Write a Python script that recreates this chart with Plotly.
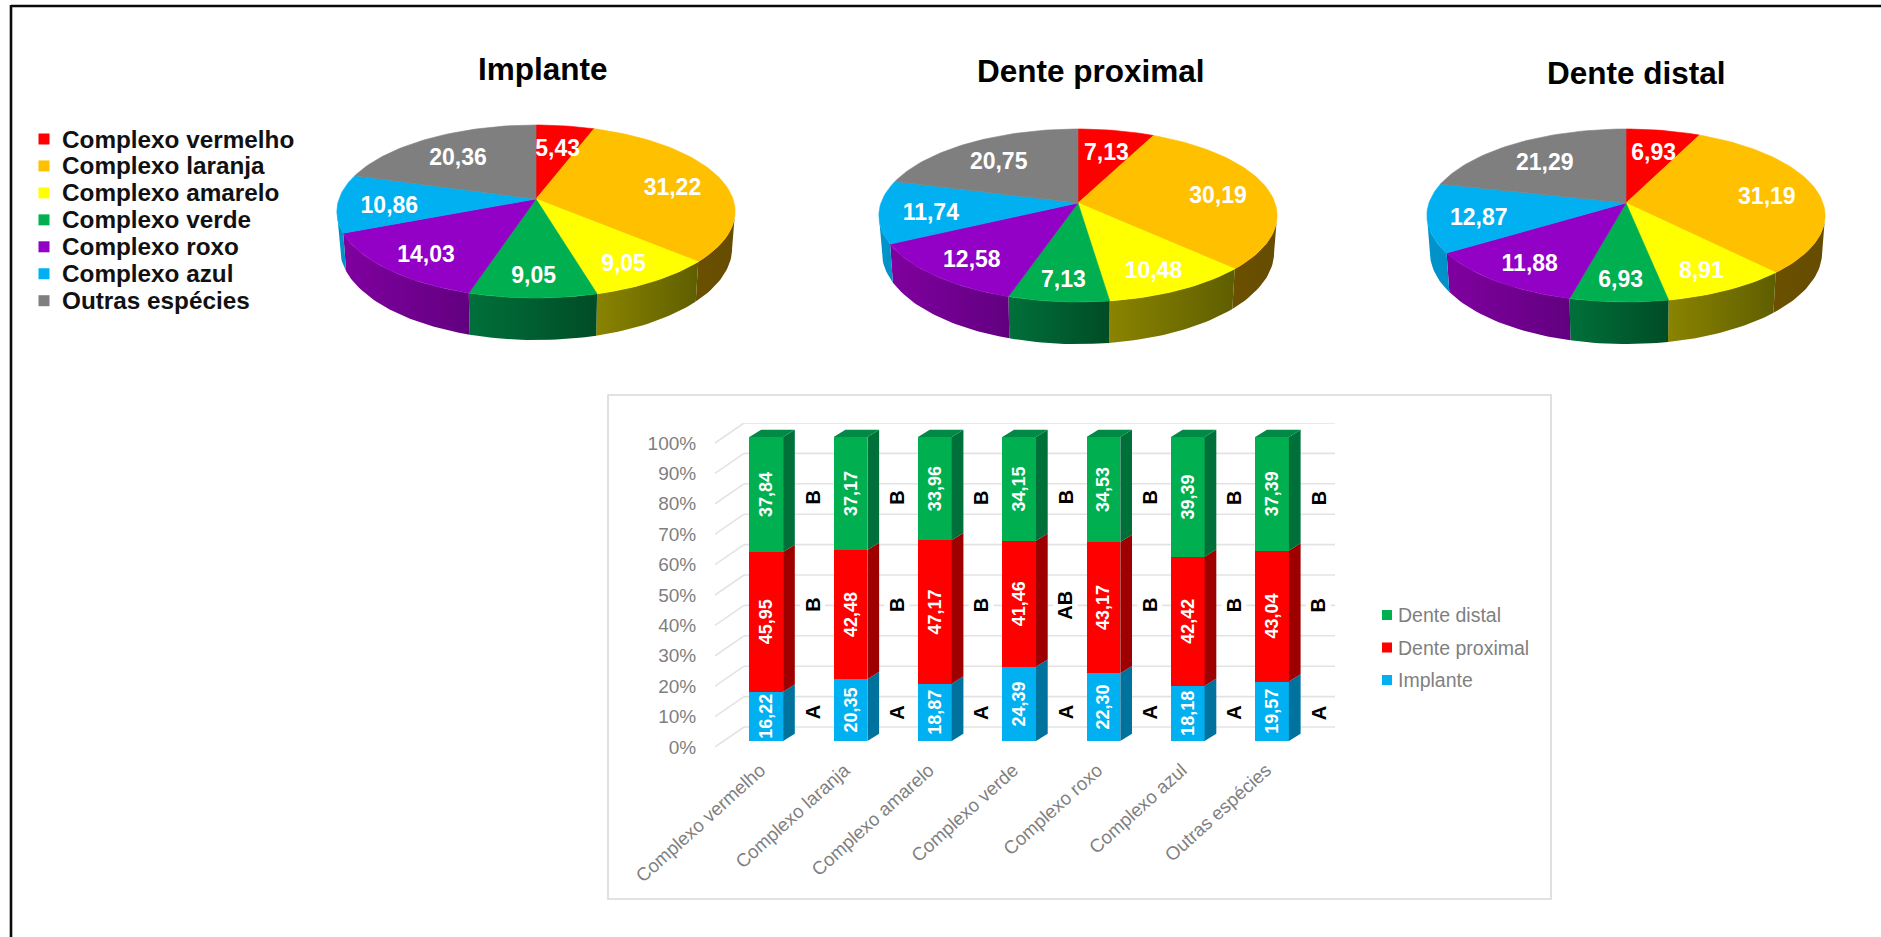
import math
import plotly.graph_objects as go

# ---------- data ----------
complexes = ["Complexo vermelho", "Complexo laranja", "Complexo amarelo", "Complexo verde",
             "Complexo roxo", "Complexo azul", "Outras espécies"]
pie_implante = [5.43, 31.22, 9.05, 9.05, 14.03, 10.86, 20.36]
pie_proximal = [7.13, 30.19, 10.48, 7.13, 12.58, 11.74, 20.75]
pie_distal = [6.93, 31.19, 8.91, 6.93, 11.88, 12.87, 21.29]
bar_implante = [16.22, 20.35, 18.87, 24.39, 22.30, 18.18, 19.57]
bar_proximal = [45.95, 42.48, 47.17, 41.46, 43.17, 42.42, 43.04]
bar_distal = [37.84, 37.17, 33.96, 34.15, 34.53, 39.39, 37.39]
letters_implante = ["A", "A", "A", "A", "A", "A", "A"]
letters_proximal = ["B", "B", "B", "AB", "B", "B", "B"]
letters_distal = ["B", "B", "B", "B", "B", "B", "B"]
y_ticks = [0, 10, 20, 30, 40, 50, 60, 70, 80, 90, 100]
bar_series = ["Dente distal", "Dente proximal", "Implante"]

# ---------- style ----------
W, H = 1881, 937
FONT = "Liberation Sans"
TOP_COL = ["#ff0000", "#ffc000", "#ffff00", "#00b050", "#9300c6", "#00b0f0", "#7f7f7f"]
SIDE_COL = [("#800000", "#800000"), ("#6b5000", "#664c00"), ("#8a8400", "#5f5e00"),
            ("#00703a", "#004c26"), ("#80009f", "#620080"), ("#0095cc", "#0090c8"),
            ("#555555", "#555555")]
GREY = "#7f7f7f"
GRID = "#e3e3e3"
C_IMPL, C_PROX, C_DIST = "#00b0f0", "#ff0000", "#00b050"
S_IMPL, S_PROX, S_DIST = "#00729e", "#9e0000", "#00703a"
T_DIST = "#008a46"

# Perspective parameters of the tilted discs, in page pixels.
K = 0.1446
HY = 84.7
RX = 197.0
DEPTH = 36.0
BOTTOM_SCALE = 0.985
SILHOUETTE = math.degrees(math.acos(-K))
LABEL_R = 0.74
LABEL_DY = 5.0


def project(cx, cy, deg, r=1.0, bottom=False):
    t = math.radians(deg)
    w = 1 + K * math.cos(t)
    x = r * RX * math.sin(t) / w
    y = -r * HY * math.cos(t) / w
    if bottom:
        return cx + x * BOTTOM_SCALE, cy + y + DEPTH / w
    return cx + x, cy + y


def arc(a, b, step=1.5):
    n = max(2, int(abs(b - a) / step) + 1)
    return [a + (b - a) * i / n for i in range(n + 1)]


fig = go.Figure()


def add_pie(values, cx, cy):
    total = sum(values)
    edges = [0.0]
    for v in values:
        edges.append(edges[-1] + v / total * 360)
    # side wall first
    for i in range(len(values)):
        a = max(edges[i], SILHOUETTE)
        b = min(edges[i + 1], 360 - SILHOUETTE)
        if b <= a:
            continue
        top = [project(cx, cy, d) for d in arc(a, b)]
        bot = [project(cx, cy, d, bottom=True) for d in arc(b, a)]
        pts = top + bot
        pts.append(pts[0])
        c1, c2 = SIDE_COL[i]
        fig.add_trace(go.Scatter(
            x=[p[0] for p in pts], y=[p[1] for p in pts], mode="lines", fill="toself",
            line=dict(width=0, color=c1),
            fillgradient=dict(type="horizontal", colorscale=[[0, c1], [1, c2]]),
            hoverinfo="skip", showlegend=False, xaxis="x", yaxis="y"))
    # top surface
    for i in range(len(values)):
        pts = [project(cx, cy, d) for d in arc(edges[i], edges[i + 1])]
        pts = [(cx, cy)] + pts + [(cx, cy)]
        fig.add_trace(go.Scatter(
            x=[p[0] for p in pts], y=[p[1] for p in pts], mode="lines", fill="toself",
            fillcolor=TOP_COL[i], line=dict(width=0.6, color=TOP_COL[i]),
            hoverinfo="skip", showlegend=False, xaxis="x", yaxis="y"))
    # labels
    lab = [project(cx, cy, (edges[i] + edges[i + 1]) / 2, r=LABEL_R) for i in range(len(values))]
    fig.add_trace(go.Scatter(
        x=[p[0] for p in lab], y=[p[1] + LABEL_DY for p in lab], mode="text",
        text=[f"{v:.2f}".replace(".", ",") for v in values], textposition="middle center",
        textfont=dict(family=FONT, size=23, color="white", weight="bold"),
        hoverinfo="skip", showlegend=False, xaxis="x", yaxis="y"))


add_pie(pie_implante, 536, 199)
add_pie(pie_proximal, 1078, 203)
add_pie(pie_distal, 1626, 203)

# left legend of the pies
LEG_X, LEG_Y, LEG_DY = 44, 139, 26.95
for i, name in enumerate(complexes):
    fig.add_annotation(x=LEG_X + 16, y=LEG_Y + LEG_DY * i, xref="x", yref="y", text=f"<b>{name}</b>",
                       showarrow=False, xanchor="left", yanchor="middle",
                       font=dict(family=FONT, size=24.3, color="#111111"))
fig.add_trace(go.Scatter(
    x=[LEG_X] * len(complexes), y=[LEG_Y + LEG_DY * i for i in range(len(complexes))],
    mode="markers", marker=dict(symbol="square", size=11, color=TOP_COL),
    hoverinfo="skip", showlegend=False, xaxis="x", yaxis="y"))

# pie titles
for txt, x, y in [("Implante", 543, 69), ("Dente proximal", 1091, 71), ("Dente distal", 1636, 73)]:
    fig.add_annotation(x=x, y=y, xref="x", yref="y", text=f"<b>{txt}</b>", showarrow=False,
                       font=dict(family=FONT, size=31.5, color="black"))

# ---------- stacked bars ----------
PX_PER_CAT = 84.3
PX_PER_PCT = 3.04
CAT0_PX = 766.25
ZERO_PX = 741.0
PLOT_L, PLOT_R, PLOT_T, PLOT_B = 715, 1335, 423, 747
x_rng = [(PLOT_L - CAT0_PX) / PX_PER_CAT, (PLOT_R - CAT0_PX) / PX_PER_CAT]
y_rng = [(ZERO_PX - PLOT_B) / PX_PER_PCT, (ZERO_PX - PLOT_T) / PX_PER_PCT]
BAR_W = 0.40
SIDE_DX = 11.7 / PX_PER_CAT
SIDE_DY = 7.3 / PX_PER_PCT
TICK_SHIFT = 0.07
positions = list(range(len(complexes)))


def labels(vals):
    return [f"{v:.2f}".replace(".", ",") for v in vals]


for name, vals, col in [("Implante", bar_implante, C_IMPL),
                        ("Dente proximal", bar_proximal, C_PROX),
                        ("Dente distal", bar_distal, C_DIST)]:
    fig.add_trace(go.Bar(
        x=positions, y=vals, name=name, width=BAR_W, marker=dict(color=col, line=dict(width=0)),
        text=labels(vals), textposition="inside", insidetextanchor="middle", textangle=-90,
        constraintext="none",
        insidetextfont=dict(family=FONT, size=18, color="white", weight="bold"),
        hoverinfo="skip", showlegend=False, xaxis="x2", yaxis="y2"))

# 3-D side faces and top caps of the bars
for i in positions:
    base = 0.0
    r = i + BAR_W / 2
    for vals, side in [(bar_implante, S_IMPL), (bar_proximal, S_PROX), (bar_distal, S_DIST)]:
        top = base + vals[i]
        fig.add_trace(go.Scatter(
            x=[r, r + SIDE_DX, r + SIDE_DX, r, r],
            y=[base, base + SIDE_DY, top + SIDE_DY, top, base],
            mode="lines", fill="toself", fillcolor=side, line=dict(width=0, color=side),
            hoverinfo="skip", showlegend=False, xaxis="x2", yaxis="y2"))
        base = top
    l = i - BAR_W / 2
    fig.add_trace(go.Scatter(
        x=[l, r, r + SIDE_DX, l + SIDE_DX, l],
        y=[base, base, base + SIDE_DY, base + SIDE_DY, base],
        mode="lines", fill="toself", fillcolor=T_DIST, line=dict(width=0, color=T_DIST),
        hoverinfo="skip", showlegend=False, xaxis="x2", yaxis="y2"))

# significance letters between the bars
LETTER_DX = 0.55
for vals, ypos, bg in [(letters_implante, 9.3, None), (letters_proximal, 44.7, "white"),
                       (letters_distal, 80.0, None)]:
    for i, s in zip(positions, vals):
        fig.add_annotation(x=i + LETTER_DX, y=ypos, xref="x2", yref="y2", text=f"<b>{s}</b>",
                           showarrow=False, textangle=-90, bgcolor=bg, borderpad=1,
                           font=dict(family=FONT, size=20, color="black"))

# legend of the bar chart
BL_X, BL_Y, BL_DY = 1387, 615, 32.5
for i, name in enumerate(bar_series):
    fig.add_annotation(x=BL_X + 9, y=BL_Y + BL_DY * i, xref="x", yref="y", text=name,
                       showarrow=False, xanchor="left", yanchor="middle",
                       font=dict(family=FONT, size=19.5, color=GREY))
fig.add_trace(go.Scatter(
    x=[BL_X] * 3, y=[BL_Y + BL_DY * i for i in range(3)],
    mode="markers", marker=dict(symbol="square", size=10, color=[C_DIST, C_PROX, C_IMPL]),
    hoverinfo="skip", showlegend=False, xaxis="x", yaxis="y"))

# back wall and side wall gridlines (3-D frame)
WALL_DX = (744 - PLOT_L) / PX_PER_CAT
WALL_UP = (ZERO_PX - 727) / PX_PER_PCT
FRONT_SHIFT = (PLOT_B - ZERO_PX) / PX_PER_PCT
shapes = []
for t in y_ticks:
    yb = t + WALL_UP
    yf = t - FRONT_SHIFT
    shapes.append(dict(type="line", xref="x2", yref="y2", x0=x_rng[0] + WALL_DX, x1=x_rng[1],
                       y0=yb, y1=yb, layer="below", line=dict(color=GRID, width=1.6)))
    shapes.append(dict(type="line", xref="x2", yref="y2", x0=x_rng[0], x1=x_rng[0] + WALL_DX,
                       y0=yf, y1=yb, layer="below", line=dict(color=GRID, width=1.6)))
# chart box and outer frame
shapes.append(dict(type="rect", xref="x", yref="y", x0=608, x1=1551, y0=395, y1=899,
                   layer="below", line=dict(color="#d9d9d9", width=1.6), fillcolor="white"))
shapes.append(dict(type="line", xref="x", yref="y", x0=11, x1=W, y0=6, y1=6,
                   line=dict(color="#0a0a0a", width=2.6)))
shapes.append(dict(type="line", xref="x", yref="y", x0=11, x1=11, y0=5, y1=H,
                   line=dict(color="#0a0a0a", width=2.6)))

fig.update_layout(
    width=W, height=H, autosize=False, margin=dict(l=0, r=0, t=0, b=0, pad=0),
    paper_bgcolor="white", plot_bgcolor="rgba(0,0,0,0)",
    barmode="stack", shapes=shapes, showlegend=False,
    xaxis=dict(domain=[0, 1], range=[0, W], visible=False, fixedrange=True, automargin=False),
    yaxis=dict(domain=[0, 1], range=[H, 0], visible=False, fixedrange=True, automargin=False),
    xaxis2=dict(domain=[PLOT_L / W, PLOT_R / W], range=x_rng, anchor="y2", tickmode="array",
                tickvals=[p - TICK_SHIFT for p in positions], ticktext=complexes, tickangle=-42,
                showgrid=False, zeroline=False,
                showline=False, ticks="outside", ticklen=4, tickcolor="rgba(0,0,0,0)", automargin=False,
                tickfont=dict(family=FONT, size=18.7, color=GREY), fixedrange=True),
    yaxis2=dict(domain=[1 - PLOT_B / H, 1 - PLOT_T / H], range=y_rng, anchor="x2", tickmode="array",
                tickvals=[t - FRONT_SHIFT for t in y_ticks], ticktext=[f"{t}%" for t in y_ticks],
                showgrid=False, zeroline=False, showline=False, ticks="outside", ticklen=14,
                tickcolor="rgba(0,0,0,0)", tickfont=dict(family=FONT, size=19, color=GREY),
                automargin=False, fixedrange=True),
)

fig.write_html("out.html", config={"displayModeBar": False},
               post_script="document.body.style.margin='0';document.body.style.overflow='hidden';")
